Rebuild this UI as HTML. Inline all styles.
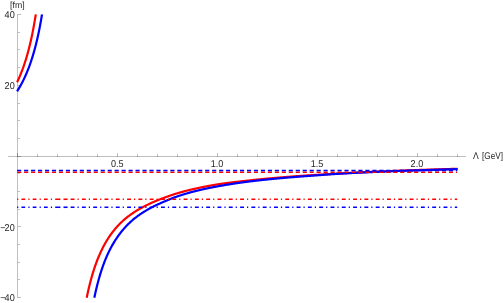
<!DOCTYPE html>
<html><head><meta charset="utf-8"><title>plot</title>
<style>
html,body{margin:0;padding:0;background:#fff;}
svg{display:block;position:absolute;left:0;top:0}
svg.ov{will-change:transform;opacity:0.999}
text{font-family:"Liberation Sans",sans-serif;font-size:9.9px;fill:#262626;text-rendering:geometricPrecision;}
</style></head><body>
<svg width="504" height="303" viewBox="0 0 504 303">
<rect width="504" height="303" fill="#fff"/>
<g stroke="#000" stroke-opacity="0.25" stroke-width="1" fill="none" shape-rendering="crispEdges">
<line x1="8" x2="466" y1="156.5" y2="156.5"/>
<line x1="17.5" x2="17.5" y1="14" y2="298"/>
<line x1="17.50" x2="17.50" y1="156.50" y2="152.50"/><line x1="37.50" x2="37.50" y1="156.50" y2="153.90"/><line x1="57.50" x2="57.50" y1="156.50" y2="153.90"/><line x1="77.50" x2="77.50" y1="156.50" y2="153.90"/><line x1="97.50" x2="97.50" y1="156.50" y2="153.90"/><line x1="117.50" x2="117.50" y1="156.50" y2="152.50"/><line x1="137.50" x2="137.50" y1="156.50" y2="153.90"/><line x1="157.50" x2="157.50" y1="156.50" y2="153.90"/><line x1="177.50" x2="177.50" y1="156.50" y2="153.90"/><line x1="197.50" x2="197.50" y1="156.50" y2="153.90"/><line x1="217.50" x2="217.50" y1="156.50" y2="152.50"/><line x1="237.50" x2="237.50" y1="156.50" y2="153.90"/><line x1="257.50" x2="257.50" y1="156.50" y2="153.90"/><line x1="277.50" x2="277.50" y1="156.50" y2="153.90"/><line x1="297.50" x2="297.50" y1="156.50" y2="153.90"/><line x1="317.50" x2="317.50" y1="156.50" y2="152.50"/><line x1="337.50" x2="337.50" y1="156.50" y2="153.90"/><line x1="357.50" x2="357.50" y1="156.50" y2="153.90"/><line x1="377.50" x2="377.50" y1="156.50" y2="153.90"/><line x1="397.50" x2="397.50" y1="156.50" y2="153.90"/><line x1="417.50" x2="417.50" y1="156.50" y2="152.50"/><line x1="437.50" x2="437.50" y1="156.50" y2="153.90"/><line x1="457.50" x2="457.50" y1="156.50" y2="153.90"/>
<line x1="17.50" x2="21.00" y1="297.50" y2="297.50"/><line x1="17.50" x2="19.80" y1="279.50" y2="279.50"/><line x1="17.50" x2="19.80" y1="262.50" y2="262.50"/><line x1="17.50" x2="19.80" y1="244.50" y2="244.50"/><line x1="17.50" x2="21.00" y1="226.50" y2="226.50"/><line x1="17.50" x2="19.80" y1="209.50" y2="209.50"/><line x1="17.50" x2="19.80" y1="191.50" y2="191.50"/><line x1="17.50" x2="19.80" y1="173.50" y2="173.50"/><line x1="17.50" x2="21.00" y1="156.50" y2="156.50"/><line x1="17.50" x2="19.80" y1="138.50" y2="138.50"/><line x1="17.50" x2="19.80" y1="120.50" y2="120.50"/><line x1="17.50" x2="19.80" y1="103.50" y2="103.50"/><line x1="17.50" x2="21.00" y1="85.50" y2="85.50"/><line x1="17.50" x2="19.80" y1="67.50" y2="67.50"/><line x1="17.50" x2="19.80" y1="49.50" y2="49.50"/><line x1="17.50" x2="19.80" y1="32.50" y2="32.50"/><line x1="17.50" x2="21.00" y1="14.50" y2="14.50"/>
</g>
<g fill="none" stroke-width="2.2" stroke-linejoin="round">
<path stroke="#f00" d="M17.10 82.22 L17.15 82.12 L17.45 81.49 L17.75 80.85 L18.05 80.21 L18.35 79.55 L18.65 78.89 L18.95 78.21 L19.25 77.53 L19.55 76.83 L19.85 76.13 L20.15 75.42 L20.45 74.69 L20.75 73.96 L21.05 73.21 L21.35 72.46 L21.65 71.69 L21.95 70.91 L22.25 70.11 L22.55 69.31 L22.85 68.49 L23.15 67.66 L23.45 66.82 L23.75 65.96 L24.05 65.09 L24.35 64.20 L24.65 63.30 L24.95 62.39 L25.25 61.46 L25.55 60.51 L25.85 59.55 L26.15 58.57 L26.45 57.57 L26.75 56.55 L27.05 55.52 L27.35 54.47 L27.65 53.40 L27.95 52.31 L28.25 51.20 L28.55 50.06 L28.85 48.91 L29.15 47.73 L29.45 46.54 L29.75 45.31 L30.05 44.07 L30.35 42.80 L30.65 41.50 L30.95 40.18 L31.25 38.83 L31.55 37.45 L31.85 36.04 L32.15 34.60 L32.45 33.13 L32.75 31.63 L33.05 30.10 L33.35 28.53 L33.65 26.92 L33.95 25.28 L34.25 23.60 L34.55 21.88 L34.85 20.12 L35.15 18.32 L35.45 16.47 L35.75 14.58 L35.78 14.40 M86.72 297.70 L86.75 297.56 L87.05 296.10 L87.35 294.68 L87.65 293.28 L87.95 291.92 L88.25 290.58 L88.55 289.27 L88.85 287.98 L89.15 286.73 L89.45 285.49 L89.75 284.28 L90.05 283.10 L90.35 281.93 L90.65 280.79 L90.95 279.67 L91.25 278.58 L91.55 277.50 L91.85 276.44 L92.15 275.40 L92.45 274.38 L92.75 273.38 L93.05 272.39 L93.35 271.43 L93.65 270.48 L93.95 269.54 L94.25 268.62 L94.55 267.72 L94.85 266.83 L95.15 265.96 L95.45 265.10 L95.75 264.26 L96.05 263.43 L96.35 262.61 L96.65 261.81 L96.95 261.01 L97.25 260.24 L97.55 259.47 L97.85 258.71 L98.15 257.97 L98.45 257.24 L98.75 256.52 L99.05 255.81 L99.35 255.11 L99.65 254.42 L99.95 253.74 L100.25 253.07 L100.55 252.41 L100.85 251.76 L101.15 251.12 L101.45 250.48 L101.75 249.86 L102.05 249.25 L102.35 248.64 L102.65 248.04 L102.95 247.46 L103.25 246.87 L103.55 246.30 L103.85 245.74 L104.15 245.18 L104.45 244.63 L104.75 244.09 L105.05 243.55 L105.35 243.02 L105.65 242.50 L105.95 241.99 L106.25 241.48 L106.55 240.98 L106.85 240.48 L107.15 239.99 L107.45 239.51 L107.75 239.03 L108.05 238.56 L108.35 238.10 L108.65 237.64 L108.95 237.18 L109.25 236.73 L109.55 236.29 L109.85 235.85 L110.15 235.42 L110.45 234.99 L110.75 234.57 L111.05 234.15 L111.35 233.74 L111.65 233.33 L111.95 232.93 L112.25 232.53 L112.55 232.14 L112.85 231.75 L113.15 231.36 L113.45 230.98 L113.75 230.60 L114.05 230.23 L114.35 229.86 L114.65 229.50 L114.95 229.14 L115.25 228.78 L115.55 228.43 L115.85 228.08 L116.15 227.73 L116.45 227.39 L116.75 227.05 L117.05 226.72 L117.35 226.39 L117.65 226.06 L117.95 225.73 L118.25 225.41 L118.55 225.10 L118.85 224.78 L119.15 224.47 L119.45 224.16 L119.75 223.85 L120.05 223.55 L120.35 223.25 L120.65 222.96 L120.95 222.66 L121.25 222.37 L121.55 222.09 L121.85 221.80 L122.15 221.52 L122.45 221.25 L122.75 220.97 L123.05 220.70 L123.35 220.43 L123.65 220.17 L123.95 219.90 L124.25 219.64 L124.55 219.38 L124.85 219.13 L125.15 218.87 L125.45 218.62 L125.75 218.38 L126.05 218.13 L126.35 217.89 L126.65 217.65 L126.95 217.41 L127.25 217.17 L127.55 216.94 L127.85 216.70 L128.15 216.47 L128.45 216.24 L128.75 216.02 L129.05 215.79 L129.35 215.57 L129.65 215.35 L129.95 215.13 L130.25 214.91 L130.55 214.70 L130.85 214.48 L131.15 214.27 L131.45 214.06 L131.75 213.85 L132.05 213.65 L132.35 213.44 L132.65 213.23 L132.95 213.03 L133.25 212.83 L133.55 212.63 L133.85 212.43 L134.15 212.23 L134.45 212.04 L134.75 211.84 L135.05 211.65 L135.35 211.46 L135.65 211.27 L135.95 211.08 L136.25 210.89 L136.55 210.70 L136.85 210.52 L137.15 210.34 L137.45 210.15 L137.75 209.97 L138.05 209.79 L138.35 209.62 L138.65 209.44 L138.95 209.27 L139.25 209.09 L139.55 208.92 L139.85 208.75 L140.15 208.58 L140.45 208.41 L140.75 208.24 L141.05 208.08 L141.35 207.91 L141.65 207.75 L141.95 207.58 L142.25 207.42 L142.55 207.26 L142.85 207.10 L143.15 206.94 L143.45 206.78 L143.75 206.63 L144.05 206.47 L144.35 206.32 L144.65 206.16 L144.95 206.01 L145.25 205.86 L145.55 205.71 L145.85 205.56 L146.15 205.41 L146.45 205.26 L146.75 205.11 L147.05 204.96 L147.35 204.82 L147.65 204.67 L147.95 204.53 L148.25 204.38 L148.55 204.24 L148.85 204.10 L149.15 203.95 L149.45 203.81 L149.75 203.67 L150.05 203.53 L150.35 203.39 L150.65 203.25 L150.95 203.12 L151.25 202.98 L151.55 202.84 L151.85 202.71 L152.15 202.57 L152.45 202.44 L152.75 202.31 L153.05 202.17 L153.35 202.04 L153.65 201.91 L153.95 201.78 L154.25 201.65 L154.55 201.52 L154.85 201.39 L155.15 201.27 L155.45 201.14 L155.75 201.01 L156.05 200.89 L156.35 200.76 L156.65 200.64 L156.95 200.52 L157.25 200.39 L157.55 200.27 L157.85 200.15 L158.15 200.03 L158.45 199.91 L158.75 199.79 L159.05 199.67 L159.35 199.55 L159.65 199.43 L159.95 199.31 L160.25 199.20 L160.55 199.08 L160.85 198.97 L161.15 198.85 L161.45 198.74 L161.75 198.62 L162.05 198.51 L162.35 198.40 L162.65 198.29 L162.95 198.18 L163.25 198.07 L163.55 197.95 L163.85 197.85 L164.15 197.74 L164.45 197.63 L164.75 197.52 L165.05 197.41 L165.35 197.31 L165.65 197.20 L165.95 197.09 L166.25 196.98 L166.55 196.88 L166.85 196.77 L167.15 196.66 L167.45 196.56 L167.75 196.45 L168.05 196.35 L168.35 196.24 L168.65 196.13 L168.95 196.03 L169.25 195.92 L169.55 195.82 L169.85 195.72 L170.15 195.61 L170.45 195.51 L170.75 195.41 L171.05 195.30 L171.35 195.20 L171.65 195.10 L171.95 195.00 L172.25 194.90 L172.55 194.80 L172.85 194.70 L173.15 194.60 L173.45 194.50 L173.75 194.40 L174.05 194.30 L174.35 194.21 L174.65 194.11 L174.95 194.01 L175.25 193.92 L175.55 193.83 L175.85 193.73 L176.15 193.64 L176.45 193.55 L176.75 193.46 L177.05 193.37 L177.35 193.28 L177.65 193.19 L177.95 193.10 L178.25 193.01 L178.55 192.92 L178.85 192.84 L179.15 192.75 L179.45 192.66 L179.75 192.58 L180.05 192.49 L180.35 192.41 L180.65 192.32 L180.95 192.24 L181.25 192.15 L181.55 192.07 L181.85 191.99 L182.15 191.90 L182.45 191.82 L182.75 191.74 L183.05 191.66 L183.35 191.58 L183.65 191.50 L183.95 191.42 L184.25 191.34 L184.55 191.26 L184.85 191.18 L185.15 191.10 L185.45 191.02 L185.75 190.94 L186.05 190.86 L186.35 190.79 L186.65 190.71 L186.95 190.63 L187.25 190.56 L187.55 190.48 L187.85 190.41 L188.15 190.33 L188.45 190.26 L188.75 190.18 L189.05 190.11 L189.35 190.03 L189.65 189.96 L189.95 189.89 L190.25 189.81 L190.55 189.74 L190.85 189.67 L191.15 189.60 L191.45 189.53 L191.75 189.45 L192.05 189.38 L192.35 189.31 L192.65 189.24 L192.95 189.17 L193.25 189.10 L193.55 189.04 L193.85 188.97 L194.15 188.90 L194.45 188.83 L194.75 188.76 L195.05 188.69 L195.35 188.63 L195.65 188.56 L195.95 188.49 L196.25 188.43 L196.55 188.36 L196.85 188.30 L197.15 188.23 L197.45 188.17 L197.75 188.10 L198.05 188.04 L198.35 187.97 L198.65 187.91 L198.95 187.85 L199.25 187.78 L199.55 187.72 L199.85 187.66 L200.15 187.59 L200.45 187.53 L200.75 187.47 L201.05 187.41 L201.35 187.35 L201.65 187.29 L201.95 187.22 L202.25 187.16 L202.55 187.10 L202.85 187.04 L203.15 186.98 L203.45 186.92 L203.75 186.86 L204.05 186.80 L204.35 186.74 L204.65 186.69 L204.95 186.63 L205.25 186.57 L205.55 186.51 L205.85 186.45 L206.15 186.39 L206.45 186.34 L206.75 186.28 L207.05 186.22 L207.35 186.17 L207.65 186.11 L207.95 186.05 L208.25 186.00 L208.55 185.94 L208.85 185.89 L209.15 185.83 L209.45 185.78 L209.75 185.72 L210.05 185.67 L210.35 185.61 L210.65 185.56 L210.95 185.50 L211.25 185.45 L211.55 185.40 L211.85 185.34 L212.15 185.29 L212.45 185.24 L212.75 185.19 L213.05 185.13 L213.35 185.08 L213.65 185.03 L213.95 184.98 L214.25 184.93 L214.55 184.88 L214.85 184.83 L215.15 184.78 L215.45 184.73 L215.75 184.68 L216.05 184.63 L216.35 184.58 L216.65 184.53 L216.95 184.48 L217.25 184.43 L217.55 184.39 L217.85 184.34 L218.15 184.29 L218.45 184.25 L218.75 184.20 L219.05 184.15 L219.35 184.11 L219.65 184.06 L219.95 184.01 L220.25 183.97 L220.55 183.92 L220.85 183.88 L221.15 183.83 L221.45 183.79 L221.75 183.75 L222.05 183.70 L222.35 183.66 L222.65 183.62 L222.95 183.57 L223.25 183.53 L223.55 183.49 L223.85 183.45 L224.15 183.40 L224.45 183.36 L224.75 183.32 L225.05 183.28 L225.35 183.24 L225.65 183.20 L225.95 183.16 L226.25 183.12 L226.55 183.08 L226.85 183.04 L227.15 183.00 L227.45 182.96 L227.75 182.92 L228.05 182.88 L228.35 182.84 L228.65 182.80 L228.95 182.76 L229.25 182.72 L229.55 182.68 L229.85 182.65 L230.15 182.61 L230.45 182.57 L230.75 182.53 L231.05 182.50 L231.35 182.46 L231.65 182.42 L231.95 182.38 L232.25 182.35 L232.55 182.31 L232.85 182.27 L233.15 182.24 L233.45 182.20 L233.75 182.17 L234.05 182.13 L234.35 182.09 L234.65 182.06 L234.95 182.02 L235.25 181.99 L235.55 181.95 L235.85 181.92 L236.15 181.88 L236.45 181.85 L236.75 181.81 L237.05 181.78 L237.35 181.74 L237.65 181.71 L237.95 181.67 L238.25 181.64 L238.55 181.60 L238.85 181.57 L239.15 181.54 L239.45 181.50 L239.75 181.47 L240.05 181.43 L240.35 181.40 L240.65 181.37 L240.95 181.33 L241.25 181.30 L241.55 181.27 L241.85 181.23 L242.15 181.20 L242.45 181.17 L242.75 181.13 L243.05 181.10 L243.35 181.07 L243.65 181.04 L243.95 181.00 L244.25 180.97 L244.55 180.94 L244.85 180.90 L245.15 180.87 L245.45 180.84 L245.75 180.81 L246.05 180.77 L246.35 180.74 L246.65 180.71 L246.95 180.67 L247.25 180.64 L247.55 180.61 L247.85 180.58 L248.15 180.54 L248.45 180.51 L248.75 180.48 L249.05 180.45 L249.35 180.41 L249.65 180.38 L249.95 180.35 L250.25 180.32 L250.55 180.28 L250.85 180.25 L251.15 180.22 L251.45 180.19 L251.75 180.15 L252.05 180.12 L252.35 180.09 L252.65 180.06 L252.95 180.03 L253.25 180.00 L253.55 179.96 L253.85 179.93 L254.15 179.90 L254.45 179.87 L254.75 179.84 L255.05 179.81 L255.35 179.78 L255.65 179.75 L255.95 179.71 L256.25 179.68 L256.55 179.65 L256.85 179.62 L257.15 179.59 L257.45 179.56 L257.75 179.53 L258.05 179.50 L258.35 179.47 L258.65 179.44 L258.95 179.41 L259.25 179.38 L259.55 179.35 L259.85 179.32 L260.15 179.29 L260.45 179.26 L260.75 179.23 L261.05 179.20 L261.35 179.17 L261.65 179.14 L261.95 179.11 L262.25 179.09 L262.55 179.06 L262.85 179.03 L263.15 179.00 L263.45 178.97 L263.75 178.94 L264.05 178.91 L264.35 178.88 L264.65 178.85 L264.95 178.83 L265.25 178.80 L265.55 178.77 L265.85 178.74 L266.15 178.71 L266.45 178.69 L266.75 178.66 L267.05 178.63 L267.35 178.60 L267.65 178.57 L267.95 178.55 L268.25 178.52 L268.55 178.49 L268.85 178.46 L269.15 178.44 L269.45 178.41 L269.75 178.38 L270.05 178.35 L270.35 178.33 L270.65 178.30 L270.95 178.27 L271.25 178.25 L271.55 178.22 L271.85 178.19 L272.15 178.17 L272.45 178.14 L272.75 178.11 L273.05 178.09 L273.35 178.06 L273.65 178.03 L273.95 178.01 L274.25 177.98 L274.55 177.95 L274.85 177.93 L275.15 177.90 L275.45 177.88 L275.75 177.85 L276.05 177.82 L276.35 177.80 L276.65 177.77 L276.95 177.75 L277.25 177.72 L277.55 177.70 L277.85 177.67 L278.15 177.65 L278.45 177.62 L278.75 177.59 L279.05 177.57 L279.35 177.54 L279.65 177.52 L279.95 177.49 L280.25 177.47 L280.55 177.44 L280.85 177.42 L281.15 177.39 L281.45 177.37 L281.75 177.35 L282.05 177.32 L282.35 177.30 L282.65 177.27 L282.95 177.25 L283.25 177.22 L283.55 177.20 L283.85 177.17 L284.15 177.15 L284.45 177.13 L284.75 177.10 L285.05 177.08 L285.35 177.05 L285.65 177.03 L285.95 177.01 L286.25 176.98 L286.55 176.96 L286.85 176.94 L287.15 176.91 L287.45 176.89 L287.75 176.87 L288.05 176.84 L288.35 176.82 L288.65 176.80 L288.95 176.77 L289.25 176.75 L289.55 176.73 L289.85 176.70 L290.15 176.68 L290.45 176.66 L290.75 176.63 L291.05 176.61 L291.35 176.59 L291.65 176.57 L291.95 176.54 L292.25 176.52 L292.55 176.50 L292.85 176.47 L293.15 176.45 L293.45 176.43 L293.75 176.41 L294.05 176.38 L294.35 176.36 L294.65 176.34 L294.95 176.32 L295.25 176.30 L295.55 176.27 L295.85 176.25 L296.15 176.23 L296.45 176.21 L296.75 176.19 L297.05 176.16 L297.35 176.14 L297.65 176.12 L297.95 176.10 L298.25 176.08 L298.55 176.06 L298.85 176.03 L299.15 176.01 L299.45 175.99 L299.75 175.97 L300.05 175.95 L300.35 175.93 L300.65 175.91 L300.95 175.89 L301.25 175.86 L301.55 175.84 L301.85 175.82 L302.15 175.80 L302.45 175.78 L302.75 175.76 L303.05 175.74 L303.35 175.72 L303.65 175.70 L303.95 175.68 L304.25 175.66 L304.55 175.64 L304.85 175.61 L305.15 175.59 L305.45 175.57 L305.75 175.55 L306.05 175.53 L306.35 175.51 L306.65 175.49 L306.95 175.47 L307.25 175.45 L307.55 175.43 L307.85 175.41 L308.15 175.39 L308.45 175.37 L308.75 175.35 L309.05 175.33 L309.35 175.31 L309.65 175.29 L309.95 175.27 L310.25 175.25 L310.55 175.23 L310.85 175.21 L311.15 175.19 L311.45 175.17 L311.75 175.16 L312.05 175.14 L312.35 175.12 L312.65 175.10 L312.95 175.08 L313.25 175.06 L313.55 175.04 L313.85 175.02 L314.15 175.00 L314.45 174.98 L314.75 174.96 L315.05 174.94 L315.35 174.93 L315.65 174.91 L315.95 174.89 L316.25 174.87 L316.55 174.85 L316.85 174.83 L317.15 174.81 L317.45 174.79 L317.75 174.78 L318.05 174.76 L318.35 174.74 L318.65 174.72 L318.95 174.70 L319.25 174.68 L319.55 174.66 L319.85 174.65 L320.15 174.63 L320.45 174.61 L320.75 174.59 L321.05 174.57 L321.35 174.55 L321.65 174.54 L321.95 174.52 L322.25 174.50 L322.55 174.48 L322.85 174.46 L323.15 174.45 L323.45 174.43 L323.75 174.41 L324.05 174.39 L324.35 174.38 L324.65 174.36 L324.95 174.34 L325.25 174.32 L325.55 174.30 L325.85 174.29 L326.15 174.27 L326.45 174.25 L326.75 174.23 L327.05 174.22 L327.35 174.20 L327.65 174.18 L327.95 174.17 L328.25 174.15 L328.55 174.13 L328.85 174.11 L329.15 174.10 L329.45 174.08 L329.75 174.06 L330.05 174.04 L330.35 174.03 L330.65 174.01 L330.95 173.99 L331.25 173.98 L331.55 173.96 L331.85 173.94 L332.15 173.93 L332.45 173.91 L332.75 173.89 L333.05 173.88 L333.35 173.86 L333.65 173.84 L333.95 173.83 L334.25 173.81 L334.55 173.79 L334.85 173.78 L335.15 173.76 L335.45 173.74 L335.75 173.73 L336.05 173.71 L336.35 173.69 L336.65 173.68 L336.95 173.66 L337.25 173.64 L337.55 173.63 L337.85 173.61 L338.15 173.59 L338.45 173.58 L338.75 173.56 L339.05 173.55 L339.35 173.53 L339.65 173.51 L339.95 173.50 L340.25 173.48 L340.55 173.47 L340.85 173.45 L341.15 173.43 L341.45 173.42 L341.75 173.40 L342.05 173.39 L342.35 173.37 L342.65 173.35 L342.95 173.34 L343.25 173.32 L343.55 173.31 L343.85 173.29 L344.15 173.27 L344.45 173.26 L344.75 173.24 L345.05 173.23 L345.35 173.21 L345.65 173.20 L345.95 173.18 L346.25 173.16 L346.55 173.15 L346.85 173.13 L347.15 173.12 L347.45 173.10 L347.75 173.09 L348.05 173.07 L348.35 173.05 L348.65 173.04 L348.95 173.02 L349.25 173.01 L349.55 172.99 L349.85 172.98 L350.15 172.96 L350.45 172.95 L350.75 172.93 L351.05 172.91 L351.35 172.90 L351.65 172.88 L351.95 172.87 L352.25 172.85 L352.55 172.84 L352.85 172.82 L353.15 172.81 L353.45 172.79 L353.75 172.77 L354.05 172.76 L354.35 172.74 L354.65 172.73 L354.95 172.71 L355.25 172.70 L355.55 172.68 L355.85 172.67 L356.15 172.65 L356.45 172.64 L356.75 172.62 L357.05 172.61 L357.35 172.59 L357.65 172.57 L357.95 172.56 L358.25 172.54 L358.55 172.53 L358.85 172.51 L359.15 172.50 L359.45 172.48 L359.75 172.47 L360.05 172.45 L360.35 172.44 L360.65 172.42 L360.95 172.41 L361.25 172.39 L361.55 172.38 L361.85 172.36 L362.15 172.35 L362.45 172.33 L362.75 172.32 L363.05 172.30 L363.35 172.29 L363.65 172.27 L363.95 172.26 L364.25 172.24 L364.55 172.23 L364.85 172.21 L365.15 172.20 L365.45 172.18 L365.75 172.17 L366.05 172.15 L366.35 172.14 L366.65 172.12 L366.95 172.11 L367.25 172.09 L367.55 172.08 L367.85 172.07 L368.15 172.05 L368.45 172.04 L368.75 172.02 L369.05 172.01 L369.35 171.99 L369.65 171.98 L369.95 171.96 L370.25 171.95 L370.55 171.93 L370.85 171.92 L371.15 171.91 L371.45 171.89 L371.75 171.88 L372.05 171.86 L372.35 171.85 L372.65 171.83 L372.95 171.82 L373.25 171.81 L373.55 171.79 L373.85 171.78 L374.15 171.76 L374.45 171.75 L374.75 171.74 L375.05 171.72 L375.35 171.71 L375.65 171.69 L375.95 171.68 L376.25 171.67 L376.55 171.65 L376.85 171.64 L377.15 171.63 L377.45 171.61 L377.75 171.60 L378.05 171.59 L378.35 171.57 L378.65 171.56 L378.95 171.54 L379.25 171.53 L379.55 171.52 L379.85 171.50 L380.15 171.49 L380.45 171.48 L380.75 171.46 L381.05 171.45 L381.35 171.44 L381.65 171.42 L381.95 171.41 L382.25 171.40 L382.55 171.39 L382.85 171.37 L383.15 171.36 L383.45 171.35 L383.75 171.33 L384.05 171.32 L384.35 171.31 L384.65 171.30 L384.95 171.28 L385.25 171.27 L385.55 171.26 L385.85 171.24 L386.15 171.23 L386.45 171.22 L386.75 171.21 L387.05 171.19 L387.35 171.18 L387.65 171.17 L387.95 171.16 L388.25 171.14 L388.55 171.13 L388.85 171.12 L389.15 171.11 L389.45 171.10 L389.75 171.08 L390.05 171.07 L390.35 171.06 L390.65 171.05 L390.95 171.03 L391.25 171.02 L391.55 171.01 L391.85 171.00 L392.15 170.98 L392.45 170.97 L392.75 170.96 L393.05 170.95 L393.35 170.94 L393.65 170.92 L393.95 170.91 L394.25 170.90 L394.55 170.89 L394.85 170.88 L395.15 170.86 L395.45 170.85 L395.75 170.84 L396.05 170.83 L396.35 170.82 L396.65 170.80 L396.95 170.79 L397.25 170.78 L397.55 170.77 L397.85 170.76 L398.15 170.75 L398.45 170.73 L398.75 170.72 L399.05 170.71 L399.35 170.70 L399.65 170.69 L399.95 170.68 L400.25 170.66 L400.55 170.65 L400.85 170.64 L401.15 170.63 L401.45 170.62 L401.75 170.61 L402.05 170.59 L402.35 170.58 L402.65 170.57 L402.95 170.56 L403.25 170.55 L403.55 170.54 L403.85 170.53 L404.15 170.51 L404.45 170.50 L404.75 170.49 L405.05 170.48 L405.35 170.47 L405.65 170.46 L405.95 170.45 L406.25 170.43 L406.55 170.42 L406.85 170.41 L407.15 170.40 L407.45 170.39 L407.75 170.38 L408.05 170.37 L408.35 170.36 L408.65 170.35 L408.95 170.33 L409.25 170.32 L409.55 170.31 L409.85 170.30 L410.15 170.29 L410.45 170.28 L410.75 170.27 L411.05 170.26 L411.35 170.25 L411.65 170.24 L411.95 170.22 L412.25 170.21 L412.55 170.20 L412.85 170.19 L413.15 170.18 L413.45 170.17 L413.75 170.16 L414.05 170.15 L414.35 170.14 L414.65 170.13 L414.95 170.12 L415.25 170.11 L415.55 170.10 L415.85 170.09 L416.15 170.07 L416.45 170.06 L416.75 170.05 L417.05 170.04 L417.35 170.03 L417.65 170.02 L417.95 170.01 L418.25 170.00 L418.55 169.99 L418.85 169.98 L419.15 169.97 L419.45 169.96 L419.75 169.95 L420.05 169.94 L420.35 169.93 L420.65 169.92 L420.95 169.91 L421.25 169.90 L421.55 169.89 L421.85 169.88 L422.15 169.87 L422.45 169.86 L422.75 169.85 L423.05 169.84 L423.35 169.83 L423.65 169.82 L423.95 169.81 L424.25 169.80 L424.55 169.79 L424.85 169.78 L425.15 169.77 L425.45 169.75 L425.75 169.74 L426.05 169.73 L426.35 169.73 L426.65 169.72 L426.95 169.71 L427.25 169.70 L427.55 169.69 L427.85 169.68 L428.15 169.67 L428.45 169.66 L428.75 169.65 L429.05 169.64 L429.35 169.63 L429.65 169.62 L429.95 169.61 L430.25 169.60 L430.55 169.59 L430.85 169.58 L431.15 169.57 L431.45 169.56 L431.75 169.55 L432.05 169.54 L432.35 169.53 L432.65 169.52 L432.95 169.51 L433.25 169.50 L433.55 169.49 L433.85 169.48 L434.15 169.47 L434.45 169.46 L434.75 169.45 L435.05 169.44 L435.35 169.43 L435.65 169.42 L435.95 169.42 L436.25 169.41 L436.55 169.40 L436.85 169.39 L437.15 169.38 L437.45 169.37 L437.75 169.36 L438.05 169.35 L438.35 169.34 L438.65 169.33 L438.95 169.32 L439.25 169.31 L439.55 169.30 L439.85 169.29 L440.15 169.29 L440.45 169.28 L440.75 169.27 L441.05 169.26 L441.35 169.25 L441.65 169.24 L441.95 169.23 L442.25 169.22 L442.55 169.21 L442.85 169.20 L443.15 169.20 L443.45 169.19 L443.75 169.18 L444.05 169.17 L444.35 169.16 L444.65 169.15 L444.95 169.14 L445.25 169.13 L445.55 169.12 L445.85 169.11 L446.15 169.11 L446.45 169.10 L446.75 169.09 L447.05 169.08 L447.35 169.07 L447.65 169.06 L447.95 169.05 L448.25 169.04 L448.55 169.04 L448.85 169.03 L449.15 169.02 L449.45 169.01 L449.75 169.00 L450.05 168.99 L450.35 168.98 L450.65 168.97 L450.95 168.97 L451.25 168.96 L451.55 168.95 L451.85 168.94 L452.15 168.93 L452.45 168.92 L452.75 168.91 L453.05 168.91 L453.35 168.90 L453.65 168.89 L453.95 168.88 L454.25 168.87 L454.55 168.86 L454.85 168.85 L455.15 168.85 L455.45 168.84 L455.75 168.83 L456.05 168.82 L456.35 168.81 L456.65 168.80 L456.95 168.79 L457.25 168.79 L457.55 168.78 L457.60 168.78"/>
<path stroke="#00f" d="M17.10 91.36 L17.10 91.36 L17.40 90.89 L17.70 90.41 L18.00 89.93 L18.30 89.44 L18.60 88.94 L18.90 88.44 L19.20 87.94 L19.50 87.42 L19.80 86.90 L20.10 86.38 L20.40 85.85 L20.70 85.31 L21.00 84.76 L21.30 84.21 L21.60 83.65 L21.90 83.08 L22.20 82.51 L22.50 81.92 L22.80 81.33 L23.10 80.73 L23.40 80.13 L23.70 79.51 L24.00 78.89 L24.30 78.26 L24.60 77.62 L24.90 76.97 L25.20 76.31 L25.50 75.64 L25.80 74.97 L26.10 74.28 L26.40 73.58 L26.70 72.88 L27.00 72.16 L27.30 71.43 L27.60 70.69 L27.90 69.94 L28.20 69.18 L28.50 68.40 L28.80 67.62 L29.10 66.82 L29.40 66.01 L29.70 65.18 L30.00 64.35 L30.30 63.50 L30.60 62.63 L30.90 61.75 L31.20 60.86 L31.50 59.95 L31.80 59.03 L32.10 58.09 L32.40 57.13 L32.70 56.16 L33.00 55.17 L33.30 54.17 L33.60 53.14 L33.90 52.10 L34.20 51.04 L34.50 49.95 L34.80 48.85 L35.10 47.73 L35.40 46.59 L35.70 45.42 L36.00 44.23 L36.30 43.02 L36.60 41.79 L36.90 40.53 L37.20 39.24 L37.50 37.93 L37.80 36.59 L38.10 35.23 L38.40 33.83 L38.70 32.41 L39.00 30.95 L39.30 29.47 L39.60 27.95 L39.90 26.40 L40.20 24.81 L40.50 23.18 L40.80 21.52 L41.10 19.82 L41.40 18.08 L41.70 16.30 L42.00 14.48 L42.01 14.40 M94.34 297.70 L94.35 297.65 L94.65 296.22 L94.95 294.82 L95.25 293.45 L95.55 292.11 L95.85 290.80 L96.15 289.51 L96.45 288.25 L96.75 287.01 L97.05 285.80 L97.35 284.61 L97.65 283.45 L97.95 282.30 L98.25 281.18 L98.55 280.08 L98.85 279.00 L99.15 277.94 L99.45 276.90 L99.75 275.88 L100.05 274.87 L100.35 273.88 L100.65 272.92 L100.95 271.96 L101.25 271.03 L101.55 270.11 L101.85 269.20 L102.15 268.32 L102.45 267.44 L102.75 266.58 L103.05 265.74 L103.35 264.90 L103.65 264.09 L103.95 263.28 L104.25 262.49 L104.55 261.71 L104.85 260.94 L105.15 260.18 L105.45 259.44 L105.75 258.71 L106.05 257.99 L106.35 257.28 L106.65 256.58 L106.95 255.89 L107.25 255.22 L107.55 254.55 L107.85 253.90 L108.15 253.25 L108.45 252.61 L108.75 251.99 L109.05 251.37 L109.35 250.76 L109.65 250.16 L109.95 249.57 L110.25 248.99 L110.55 248.41 L110.85 247.84 L111.15 247.28 L111.45 246.73 L111.75 246.19 L112.05 245.65 L112.35 245.12 L112.65 244.60 L112.95 244.08 L113.25 243.57 L113.55 243.07 L113.85 242.57 L114.15 242.08 L114.45 241.59 L114.75 241.11 L115.05 240.64 L115.35 240.17 L115.65 239.71 L115.95 239.25 L116.25 238.79 L116.55 238.35 L116.85 237.90 L117.15 237.46 L117.45 237.03 L117.75 236.60 L118.05 236.17 L118.35 235.75 L118.65 235.34 L118.95 234.92 L119.25 234.52 L119.55 234.11 L119.85 233.72 L120.15 233.32 L120.45 232.93 L120.75 232.54 L121.05 232.16 L121.35 231.78 L121.65 231.41 L121.95 231.04 L122.25 230.67 L122.55 230.31 L122.85 229.95 L123.15 229.60 L123.45 229.25 L123.75 228.90 L124.05 228.56 L124.35 228.22 L124.65 227.88 L124.95 227.55 L125.25 227.21 L125.55 226.89 L125.85 226.56 L126.15 226.24 L126.45 225.93 L126.75 225.61 L127.05 225.30 L127.35 224.99 L127.65 224.69 L127.95 224.39 L128.25 224.09 L128.55 223.79 L128.85 223.50 L129.15 223.21 L129.45 222.92 L129.75 222.64 L130.05 222.36 L130.35 222.08 L130.65 221.81 L130.95 221.53 L131.25 221.26 L131.55 221.00 L131.85 220.73 L132.15 220.47 L132.45 220.21 L132.75 219.95 L133.05 219.70 L133.35 219.45 L133.65 219.20 L133.95 218.95 L134.25 218.71 L134.55 218.46 L134.85 218.22 L135.15 217.98 L135.45 217.75 L135.75 217.52 L136.05 217.28 L136.35 217.05 L136.65 216.83 L136.95 216.60 L137.25 216.38 L137.55 216.16 L137.85 215.94 L138.15 215.72 L138.45 215.50 L138.75 215.29 L139.05 215.08 L139.35 214.87 L139.65 214.66 L139.95 214.45 L140.25 214.24 L140.55 214.04 L140.85 213.84 L141.15 213.63 L141.45 213.44 L141.75 213.24 L142.05 213.04 L142.35 212.84 L142.65 212.65 L142.95 212.46 L143.25 212.27 L143.55 212.08 L143.85 211.89 L144.15 211.70 L144.45 211.51 L144.75 211.33 L145.05 211.15 L145.35 210.96 L145.65 210.78 L145.95 210.60 L146.25 210.42 L146.55 210.25 L146.85 210.07 L147.15 209.90 L147.45 209.72 L147.75 209.55 L148.05 209.38 L148.35 209.21 L148.65 209.04 L148.95 208.88 L149.25 208.71 L149.55 208.55 L149.85 208.38 L150.15 208.22 L150.45 208.06 L150.75 207.90 L151.05 207.74 L151.35 207.58 L151.65 207.42 L151.95 207.27 L152.25 207.11 L152.55 206.96 L152.85 206.81 L153.15 206.66 L153.45 206.50 L153.75 206.35 L154.05 206.21 L154.35 206.06 L154.65 205.91 L154.95 205.76 L155.25 205.62 L155.55 205.47 L155.85 205.33 L156.15 205.19 L156.45 205.04 L156.75 204.90 L157.05 204.76 L157.35 204.62 L157.65 204.48 L157.95 204.34 L158.25 204.21 L158.55 204.07 L158.85 203.93 L159.15 203.80 L159.45 203.66 L159.75 203.53 L160.05 203.39 L160.35 203.26 L160.65 203.13 L160.95 202.99 L161.25 202.86 L161.55 202.73 L161.85 202.60 L162.15 202.46 L162.45 202.33 L162.75 202.20 L163.05 202.07 L163.35 201.94 L163.65 201.81 L163.95 201.68 L164.25 201.55 L164.55 201.42 L164.85 201.29 L165.15 201.16 L165.45 201.03 L165.75 200.90 L166.05 200.78 L166.35 200.65 L166.65 200.52 L166.95 200.40 L167.25 200.27 L167.55 200.14 L167.85 200.02 L168.15 199.90 L168.45 199.77 L168.75 199.65 L169.05 199.53 L169.35 199.40 L169.65 199.28 L169.95 199.16 L170.25 199.04 L170.55 198.92 L170.85 198.80 L171.15 198.68 L171.45 198.57 L171.75 198.45 L172.05 198.33 L172.35 198.22 L172.65 198.10 L172.95 197.99 L173.25 197.87 L173.55 197.76 L173.85 197.65 L174.15 197.54 L174.45 197.43 L174.75 197.32 L175.05 197.21 L175.35 197.10 L175.65 196.99 L175.95 196.89 L176.25 196.78 L176.55 196.68 L176.85 196.57 L177.15 196.47 L177.45 196.37 L177.75 196.27 L178.05 196.17 L178.35 196.07 L178.65 195.97 L178.95 195.87 L179.25 195.77 L179.55 195.67 L179.85 195.57 L180.15 195.47 L180.45 195.38 L180.75 195.28 L181.05 195.18 L181.35 195.09 L181.65 194.99 L181.95 194.90 L182.25 194.80 L182.55 194.71 L182.85 194.61 L183.15 194.52 L183.45 194.43 L183.75 194.34 L184.05 194.25 L184.35 194.15 L184.65 194.06 L184.95 193.97 L185.25 193.88 L185.55 193.80 L185.85 193.71 L186.15 193.62 L186.45 193.53 L186.75 193.44 L187.05 193.36 L187.35 193.27 L187.65 193.18 L187.95 193.10 L188.25 193.01 L188.55 192.93 L188.85 192.84 L189.15 192.76 L189.45 192.67 L189.75 192.59 L190.05 192.51 L190.35 192.42 L190.65 192.34 L190.95 192.26 L191.25 192.18 L191.55 192.10 L191.85 192.02 L192.15 191.94 L192.45 191.86 L192.75 191.78 L193.05 191.70 L193.35 191.62 L193.65 191.54 L193.95 191.47 L194.25 191.39 L194.55 191.31 L194.85 191.24 L195.15 191.16 L195.45 191.08 L195.75 191.01 L196.05 190.93 L196.35 190.86 L196.65 190.78 L196.95 190.71 L197.25 190.64 L197.55 190.56 L197.85 190.49 L198.15 190.42 L198.45 190.35 L198.75 190.27 L199.05 190.20 L199.35 190.13 L199.65 190.06 L199.95 189.99 L200.25 189.92 L200.55 189.85 L200.85 189.78 L201.15 189.71 L201.45 189.65 L201.75 189.58 L202.05 189.51 L202.35 189.44 L202.65 189.38 L202.95 189.31 L203.25 189.24 L203.55 189.18 L203.85 189.11 L204.15 189.04 L204.45 188.98 L204.75 188.91 L205.05 188.85 L205.35 188.78 L205.65 188.72 L205.95 188.65 L206.25 188.59 L206.55 188.53 L206.85 188.46 L207.15 188.40 L207.45 188.34 L207.75 188.28 L208.05 188.21 L208.35 188.15 L208.65 188.09 L208.95 188.03 L209.25 187.97 L209.55 187.91 L209.85 187.85 L210.15 187.79 L210.45 187.73 L210.75 187.67 L211.05 187.61 L211.35 187.55 L211.65 187.49 L211.95 187.43 L212.25 187.37 L212.55 187.31 L212.85 187.25 L213.15 187.20 L213.45 187.14 L213.75 187.08 L214.05 187.02 L214.35 186.97 L214.65 186.91 L214.95 186.85 L215.25 186.80 L215.55 186.74 L215.85 186.68 L216.15 186.63 L216.45 186.57 L216.75 186.52 L217.05 186.46 L217.35 186.41 L217.65 186.35 L217.95 186.30 L218.25 186.24 L218.55 186.19 L218.85 186.13 L219.15 186.08 L219.45 186.02 L219.75 185.97 L220.05 185.92 L220.35 185.86 L220.65 185.81 L220.95 185.76 L221.25 185.70 L221.55 185.65 L221.85 185.60 L222.15 185.55 L222.45 185.50 L222.75 185.44 L223.05 185.39 L223.35 185.34 L223.65 185.29 L223.95 185.24 L224.25 185.19 L224.55 185.14 L224.85 185.08 L225.15 185.03 L225.45 184.98 L225.75 184.93 L226.05 184.88 L226.35 184.83 L226.65 184.78 L226.95 184.73 L227.25 184.68 L227.55 184.64 L227.85 184.59 L228.15 184.54 L228.45 184.49 L228.75 184.44 L229.05 184.39 L229.35 184.34 L229.65 184.30 L229.95 184.25 L230.25 184.20 L230.55 184.15 L230.85 184.11 L231.15 184.06 L231.45 184.01 L231.75 183.96 L232.05 183.92 L232.35 183.87 L232.65 183.83 L232.95 183.78 L233.25 183.73 L233.55 183.69 L233.85 183.64 L234.15 183.60 L234.45 183.55 L234.75 183.51 L235.05 183.46 L235.35 183.42 L235.65 183.37 L235.95 183.33 L236.25 183.28 L236.55 183.24 L236.85 183.19 L237.15 183.15 L237.45 183.11 L237.75 183.06 L238.05 183.02 L238.35 182.98 L238.65 182.93 L238.95 182.89 L239.25 182.85 L239.55 182.80 L239.85 182.76 L240.15 182.72 L240.45 182.68 L240.75 182.63 L241.05 182.59 L241.35 182.55 L241.65 182.51 L241.95 182.47 L242.25 182.43 L242.55 182.39 L242.85 182.35 L243.15 182.30 L243.45 182.26 L243.75 182.22 L244.05 182.18 L244.35 182.14 L244.65 182.10 L244.95 182.06 L245.25 182.02 L245.55 181.98 L245.85 181.95 L246.15 181.91 L246.45 181.87 L246.75 181.83 L247.05 181.79 L247.35 181.75 L247.65 181.71 L247.95 181.67 L248.25 181.64 L248.55 181.60 L248.85 181.56 L249.15 181.52 L249.45 181.49 L249.75 181.45 L250.05 181.41 L250.35 181.38 L250.65 181.34 L250.95 181.30 L251.25 181.27 L251.55 181.23 L251.85 181.19 L252.15 181.16 L252.45 181.12 L252.75 181.08 L253.05 181.05 L253.35 181.01 L253.65 180.98 L253.95 180.94 L254.25 180.91 L254.55 180.87 L254.85 180.84 L255.15 180.80 L255.45 180.77 L255.75 180.73 L256.05 180.70 L256.35 180.66 L256.65 180.63 L256.95 180.59 L257.25 180.56 L257.55 180.53 L257.85 180.49 L258.15 180.46 L258.45 180.42 L258.75 180.39 L259.05 180.36 L259.35 180.32 L259.65 180.29 L259.95 180.26 L260.25 180.22 L260.55 180.19 L260.85 180.16 L261.15 180.13 L261.45 180.09 L261.75 180.06 L262.05 180.03 L262.35 180.00 L262.65 179.96 L262.95 179.93 L263.25 179.90 L263.55 179.87 L263.85 179.84 L264.15 179.80 L264.45 179.77 L264.75 179.74 L265.05 179.71 L265.35 179.68 L265.65 179.65 L265.95 179.62 L266.25 179.59 L266.55 179.55 L266.85 179.52 L267.15 179.49 L267.45 179.46 L267.75 179.43 L268.05 179.40 L268.35 179.37 L268.65 179.34 L268.95 179.31 L269.25 179.28 L269.55 179.25 L269.85 179.22 L270.15 179.19 L270.45 179.16 L270.75 179.13 L271.05 179.10 L271.35 179.07 L271.65 179.04 L271.95 179.01 L272.25 178.98 L272.55 178.95 L272.85 178.93 L273.15 178.90 L273.45 178.87 L273.75 178.84 L274.05 178.81 L274.35 178.78 L274.65 178.75 L274.95 178.72 L275.25 178.70 L275.55 178.67 L275.85 178.64 L276.15 178.61 L276.45 178.58 L276.75 178.56 L277.05 178.53 L277.35 178.50 L277.65 178.47 L277.95 178.44 L278.25 178.42 L278.55 178.39 L278.85 178.36 L279.15 178.33 L279.45 178.31 L279.75 178.28 L280.05 178.25 L280.35 178.23 L280.65 178.20 L280.95 178.17 L281.25 178.14 L281.55 178.12 L281.85 178.09 L282.15 178.06 L282.45 178.04 L282.75 178.01 L283.05 177.98 L283.35 177.96 L283.65 177.93 L283.95 177.91 L284.25 177.88 L284.55 177.85 L284.85 177.83 L285.15 177.80 L285.45 177.78 L285.75 177.75 L286.05 177.72 L286.35 177.70 L286.65 177.67 L286.95 177.65 L287.25 177.62 L287.55 177.60 L287.85 177.57 L288.15 177.54 L288.45 177.52 L288.75 177.49 L289.05 177.47 L289.35 177.44 L289.65 177.42 L289.95 177.39 L290.25 177.37 L290.55 177.34 L290.85 177.32 L291.15 177.29 L291.45 177.27 L291.75 177.25 L292.05 177.22 L292.35 177.20 L292.65 177.17 L292.95 177.15 L293.25 177.12 L293.55 177.10 L293.85 177.07 L294.15 177.05 L294.45 177.03 L294.75 177.00 L295.05 176.98 L295.35 176.95 L295.65 176.93 L295.95 176.91 L296.25 176.88 L296.55 176.86 L296.85 176.83 L297.15 176.81 L297.45 176.79 L297.75 176.76 L298.05 176.74 L298.35 176.72 L298.65 176.69 L298.95 176.67 L299.25 176.65 L299.55 176.62 L299.85 176.60 L300.15 176.58 L300.45 176.55 L300.75 176.53 L301.05 176.51 L301.35 176.48 L301.65 176.46 L301.95 176.44 L302.25 176.42 L302.55 176.39 L302.85 176.37 L303.15 176.35 L303.45 176.32 L303.75 176.30 L304.05 176.28 L304.35 176.26 L304.65 176.23 L304.95 176.21 L305.25 176.19 L305.55 176.17 L305.85 176.14 L306.15 176.12 L306.45 176.10 L306.75 176.08 L307.05 176.05 L307.35 176.03 L307.65 176.01 L307.95 175.99 L308.25 175.97 L308.55 175.94 L308.85 175.92 L309.15 175.90 L309.45 175.88 L309.75 175.86 L310.05 175.83 L310.35 175.81 L310.65 175.79 L310.95 175.77 L311.25 175.75 L311.55 175.72 L311.85 175.70 L312.15 175.68 L312.45 175.66 L312.75 175.64 L313.05 175.61 L313.35 175.59 L313.65 175.57 L313.95 175.55 L314.25 175.53 L314.55 175.50 L314.85 175.48 L315.15 175.46 L315.45 175.44 L315.75 175.41 L316.05 175.39 L316.35 175.37 L316.65 175.35 L316.95 175.32 L317.25 175.30 L317.55 175.28 L317.85 175.26 L318.15 175.23 L318.45 175.21 L318.75 175.19 L319.05 175.17 L319.35 175.14 L319.65 175.12 L319.95 175.10 L320.25 175.08 L320.55 175.06 L320.85 175.03 L321.15 175.01 L321.45 174.99 L321.75 174.97 L322.05 174.94 L322.35 174.92 L322.65 174.90 L322.95 174.88 L323.25 174.85 L323.55 174.83 L323.85 174.81 L324.15 174.79 L324.45 174.77 L324.75 174.74 L325.05 174.72 L325.35 174.70 L325.65 174.68 L325.95 174.66 L326.25 174.63 L326.55 174.61 L326.85 174.59 L327.15 174.57 L327.45 174.55 L327.75 174.52 L328.05 174.50 L328.35 174.48 L328.65 174.46 L328.95 174.44 L329.25 174.42 L329.55 174.39 L329.85 174.37 L330.15 174.35 L330.45 174.33 L330.75 174.31 L331.05 174.29 L331.35 174.27 L331.65 174.24 L331.95 174.22 L332.25 174.20 L332.55 174.18 L332.85 174.16 L333.15 174.14 L333.45 174.12 L333.75 174.10 L334.05 174.08 L334.35 174.06 L334.65 174.04 L334.95 174.02 L335.25 174.00 L335.55 173.98 L335.85 173.96 L336.15 173.94 L336.45 173.92 L336.75 173.90 L337.05 173.88 L337.35 173.86 L337.65 173.84 L337.95 173.82 L338.25 173.80 L338.55 173.78 L338.85 173.76 L339.15 173.74 L339.45 173.72 L339.75 173.70 L340.05 173.68 L340.35 173.66 L340.65 173.64 L340.95 173.63 L341.25 173.61 L341.55 173.59 L341.85 173.57 L342.15 173.55 L342.45 173.53 L342.75 173.52 L343.05 173.50 L343.35 173.48 L343.65 173.46 L343.95 173.45 L344.25 173.43 L344.55 173.41 L344.85 173.39 L345.15 173.38 L345.45 173.36 L345.75 173.34 L346.05 173.33 L346.35 173.31 L346.65 173.29 L346.95 173.28 L347.25 173.26 L347.55 173.24 L347.85 173.23 L348.15 173.21 L348.45 173.19 L348.75 173.18 L349.05 173.16 L349.35 173.14 L349.65 173.13 L349.95 173.11 L350.25 173.10 L350.55 173.08 L350.85 173.06 L351.15 173.05 L351.45 173.03 L351.75 173.02 L352.05 173.00 L352.35 172.99 L352.65 172.97 L352.95 172.95 L353.25 172.94 L353.55 172.92 L353.85 172.91 L354.15 172.89 L354.45 172.88 L354.75 172.86 L355.05 172.85 L355.35 172.83 L355.65 172.82 L355.95 172.80 L356.25 172.79 L356.55 172.77 L356.85 172.76 L357.15 172.74 L357.45 172.73 L357.75 172.71 L358.05 172.70 L358.35 172.68 L358.65 172.67 L358.95 172.66 L359.25 172.64 L359.55 172.63 L359.85 172.61 L360.15 172.60 L360.45 172.58 L360.75 172.57 L361.05 172.56 L361.35 172.54 L361.65 172.53 L361.95 172.51 L362.25 172.50 L362.55 172.48 L362.85 172.47 L363.15 172.46 L363.45 172.44 L363.75 172.43 L364.05 172.42 L364.35 172.40 L364.65 172.39 L364.95 172.37 L365.25 172.36 L365.55 172.35 L365.85 172.33 L366.15 172.32 L366.45 172.31 L366.75 172.29 L367.05 172.28 L367.35 172.27 L367.65 172.25 L367.95 172.24 L368.25 172.23 L368.55 172.21 L368.85 172.20 L369.15 172.19 L369.45 172.17 L369.75 172.16 L370.05 172.15 L370.35 172.13 L370.65 172.12 L370.95 172.11 L371.25 172.10 L371.55 172.08 L371.85 172.07 L372.15 172.06 L372.45 172.04 L372.75 172.03 L373.05 172.02 L373.35 172.00 L373.65 171.99 L373.95 171.98 L374.25 171.97 L374.55 171.95 L374.85 171.94 L375.15 171.93 L375.45 171.92 L375.75 171.90 L376.05 171.89 L376.35 171.88 L376.65 171.87 L376.95 171.85 L377.25 171.84 L377.55 171.83 L377.85 171.82 L378.15 171.80 L378.45 171.79 L378.75 171.78 L379.05 171.77 L379.35 171.75 L379.65 171.74 L379.95 171.73 L380.25 171.72 L380.55 171.70 L380.85 171.69 L381.15 171.68 L381.45 171.67 L381.75 171.66 L382.05 171.64 L382.35 171.63 L382.65 171.62 L382.95 171.61 L383.25 171.59 L383.55 171.58 L383.85 171.57 L384.15 171.56 L384.45 171.55 L384.75 171.53 L385.05 171.52 L385.35 171.51 L385.65 171.50 L385.95 171.49 L386.25 171.47 L386.55 171.46 L386.85 171.45 L387.15 171.44 L387.45 171.43 L387.75 171.41 L388.05 171.40 L388.35 171.39 L388.65 171.38 L388.95 171.37 L389.25 171.36 L389.55 171.34 L389.85 171.33 L390.15 171.32 L390.45 171.31 L390.75 171.30 L391.05 171.29 L391.35 171.28 L391.65 171.26 L391.95 171.25 L392.25 171.24 L392.55 171.23 L392.85 171.22 L393.15 171.21 L393.45 171.20 L393.75 171.19 L394.05 171.17 L394.35 171.16 L394.65 171.15 L394.95 171.14 L395.25 171.13 L395.55 171.12 L395.85 171.11 L396.15 171.10 L396.45 171.09 L396.75 171.08 L397.05 171.07 L397.35 171.06 L397.65 171.04 L397.95 171.03 L398.25 171.02 L398.55 171.01 L398.85 171.00 L399.15 170.99 L399.45 170.98 L399.75 170.97 L400.05 170.96 L400.35 170.95 L400.65 170.94 L400.95 170.93 L401.25 170.92 L401.55 170.91 L401.85 170.90 L402.15 170.89 L402.45 170.88 L402.75 170.87 L403.05 170.86 L403.35 170.85 L403.65 170.84 L403.95 170.83 L404.25 170.82 L404.55 170.81 L404.85 170.80 L405.15 170.79 L405.45 170.78 L405.75 170.76 L406.05 170.75 L406.35 170.74 L406.65 170.73 L406.95 170.72 L407.25 170.71 L407.55 170.70 L407.85 170.69 L408.15 170.68 L408.45 170.68 L408.75 170.67 L409.05 170.66 L409.35 170.65 L409.65 170.64 L409.95 170.63 L410.25 170.62 L410.55 170.61 L410.85 170.60 L411.15 170.59 L411.45 170.58 L411.75 170.57 L412.05 170.56 L412.35 170.55 L412.65 170.54 L412.95 170.53 L413.25 170.52 L413.55 170.51 L413.85 170.50 L414.15 170.49 L414.45 170.48 L414.75 170.47 L415.05 170.46 L415.35 170.45 L415.65 170.44 L415.95 170.43 L416.25 170.42 L416.55 170.41 L416.85 170.40 L417.15 170.39 L417.45 170.38 L417.75 170.37 L418.05 170.36 L418.35 170.35 L418.65 170.34 L418.95 170.34 L419.25 170.33 L419.55 170.32 L419.85 170.31 L420.15 170.30 L420.45 170.29 L420.75 170.28 L421.05 170.27 L421.35 170.26 L421.65 170.25 L421.95 170.24 L422.25 170.23 L422.55 170.22 L422.85 170.21 L423.15 170.20 L423.45 170.19 L423.75 170.18 L424.05 170.17 L424.35 170.16 L424.65 170.15 L424.95 170.14 L425.25 170.14 L425.55 170.13 L425.85 170.12 L426.15 170.11 L426.45 170.10 L426.75 170.09 L427.05 170.08 L427.35 170.07 L427.65 170.06 L427.95 170.05 L428.25 170.04 L428.55 170.03 L428.85 170.02 L429.15 170.01 L429.45 170.00 L429.75 169.99 L430.05 169.98 L430.35 169.97 L430.65 169.96 L430.95 169.95 L431.25 169.94 L431.55 169.93 L431.85 169.92 L432.15 169.92 L432.45 169.91 L432.75 169.90 L433.05 169.89 L433.35 169.88 L433.65 169.87 L433.95 169.86 L434.25 169.85 L434.55 169.84 L434.85 169.83 L435.15 169.82 L435.45 169.81 L435.75 169.80 L436.05 169.79 L436.35 169.78 L436.65 169.77 L436.95 169.76 L437.25 169.75 L437.55 169.74 L437.85 169.73 L438.15 169.72 L438.45 169.71 L438.75 169.70 L439.05 169.69 L439.35 169.68 L439.65 169.67 L439.95 169.66 L440.25 169.65 L440.55 169.64 L440.85 169.63 L441.15 169.62 L441.45 169.61 L441.75 169.60 L442.05 169.59 L442.35 169.58 L442.65 169.57 L442.95 169.56 L443.25 169.55 L443.55 169.54 L443.85 169.53 L444.15 169.52 L444.45 169.51 L444.75 169.50 L445.05 169.49 L445.35 169.48 L445.65 169.47 L445.95 169.46 L446.25 169.45 L446.55 169.44 L446.85 169.43 L447.15 169.43 L447.45 169.42 L447.75 169.41 L448.05 169.40 L448.35 169.39 L448.65 169.38 L448.95 169.37 L449.25 169.36 L449.55 169.35 L449.85 169.34 L450.15 169.33 L450.45 169.32 L450.75 169.31 L451.05 169.30 L451.35 169.29 L451.65 169.28 L451.95 169.27 L452.25 169.26 L452.55 169.25 L452.85 169.24 L453.15 169.24 L453.45 169.23 L453.75 169.22 L454.05 169.21 L454.35 169.20 L454.65 169.19 L454.95 169.18 L455.25 169.17 L455.55 169.16 L455.85 169.15 L456.15 169.14 L456.45 169.13 L456.75 169.12 L457.05 169.11 L457.35 169.11 L457.60 169.10"/>
</g>
<g fill="none" stroke-width="1.6">
<line x1="17.1" x2="457.2" y1="172.25" y2="172.25" stroke="#f00" stroke-width="1.5" stroke-dasharray="4.15 2.815"/>
<line x1="17.1" x2="457.2" y1="170.45" y2="170.45" stroke="#00f" stroke-width="1.5" stroke-dasharray="4.15 2.815"/>
<g stroke="#f00"><line x1="17.1" x2="60.4" y1="199.25" y2="199.25" stroke-dasharray="1.2 3.15 3.75 3.15"/><line x1="58.9" x2="60.4" y1="199.25" y2="199.25"/><line x1="63.5" x2="67.6" y1="199.25" y2="199.25"/><line x1="70.6" x2="457.2" y1="199.25" y2="199.25" stroke-dasharray="3.9 3.0 1.2 3.2"/></g>
<g stroke="#00f"><line x1="17.1" x2="60.4" y1="207.25" y2="207.25" stroke-dasharray="1.2 3.15 3.75 3.15"/><line x1="58.9" x2="60.4" y1="207.25" y2="207.25"/><line x1="63.5" x2="67.6" y1="207.25" y2="207.25"/><line x1="70.6" x2="457.2" y1="207.25" y2="207.25" stroke-dasharray="3.9 3.0 1.2 3.2"/></g>
</g>
</svg>
<svg class="ov" width="504" height="303" viewBox="0 0 504 303">
<text transform="translate(10.1,7.8) scale(0.98,1)" fill="#666" style="font-size:8.9px">[fm]</text>
<text transform="translate(14.7,18.0) scale(0.92,1)" text-anchor="end">40</text>
<text transform="translate(14.7,88.8) scale(0.92,1)" text-anchor="end">20</text>
<text transform="translate(14.7,230.8) scale(0.92,1)" text-anchor="end">−<tspan dx="-1">20</tspan></text>
<text transform="translate(14.7,301.0) scale(0.92,1)" text-anchor="end">−<tspan dx="-1">40</tspan></text>
<text transform="translate(117.2,166.7) scale(0.92,1)" text-anchor="middle">0.5</text>
<text transform="translate(217.1,166.7) scale(0.92,1)" text-anchor="middle">1.0</text>
<text transform="translate(317.0,166.7) scale(0.92,1)" text-anchor="middle">1.5</text>
<text transform="translate(416.9,166.7) scale(0.92,1)" text-anchor="middle">2.0</text>
<text transform="translate(473,159.2) scale(0.84,1)" fill="#666" style="font-size:9.7px"><tspan textLength="6.9" lengthAdjust="spacingAndGlyphs">Λ</tspan><tspan x="8.13"> [GeV]</tspan></text>
</svg>
</body></html>
